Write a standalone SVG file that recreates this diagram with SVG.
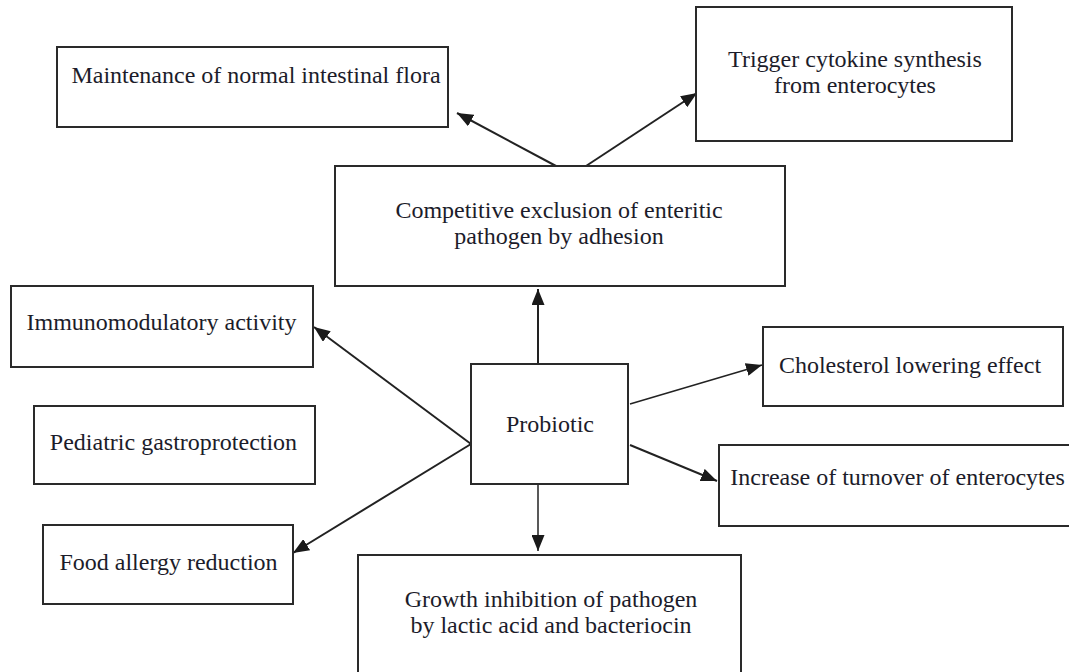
<svg xmlns="http://www.w3.org/2000/svg" width="1069" height="672" viewBox="0 0 1069 672">
<style>
.box{fill:#fff;stroke:#2a2a2a;stroke-width:2}
.lbl{font-family:"Liberation Serif","Times New Roman",serif;font-size:24px;fill:#1c1c2a;text-anchor:middle}
.edge{stroke:#222;stroke-width:2;fill:none;marker-end:url(#ah)}
.thin{stroke-width:1.5}
</style>
<defs>
<marker id="ah" viewBox="0 0 16 13" refX="16" refY="6.5" markerWidth="16" markerHeight="13" markerUnits="userSpaceOnUse" orient="auto">
<path d="M0,0 L16,6.5 L0,13 z" fill="#1a1a1a"/>
</marker>
</defs>
<rect width="1069" height="672" fill="#fff"/>
<g id="connectors">
<line class="edge" x1="556" y1="166" x2="457" y2="113"/>
<line class="edge" x1="586" y1="166" x2="697" y2="93"/>
<line class="edge" x1="538" y1="364" x2="538" y2="289"/>
<line class="edge" x1="471" y1="444" x2="314" y2="327"/>
<line class="edge" x1="471" y1="444" x2="293" y2="553"/>
<line class="edge thin" x1="630" y1="404" x2="762" y2="365"/>
<line class="edge" x1="630" y1="445" x2="717" y2="481"/>
<line class="edge thin" x1="538" y1="484" x2="538" y2="551"/>
</g>
<g id="maintenance">
<rect class="box" x="57" y="47" width="391" height="80"/>
<text class="lbl" x="256" y="83">Maintenance of normal intestinal flora</text>
</g>
<g id="trigger">
<rect class="box" x="696" y="7" width="316" height="134"/>
<text class="lbl" x="855" y="67">Trigger cytokine synthesis</text>
<text class="lbl" x="855" y="93">from enterocytes</text>
</g>
<g id="competitive">
<rect class="box" x="335" y="166" width="450" height="120"/>
<text class="lbl" x="559" y="218">Competitive exclusion of enteritic</text>
<text class="lbl" x="559" y="244">pathogen by adhesion</text>
</g>
<g id="immuno">
<rect class="box" x="11" y="286" width="302" height="81"/>
<text class="lbl" x="161.5" y="330">Immunomodulatory activity</text>
</g>
<g id="pediatric">
<rect class="box" x="34" y="406" width="281" height="78"/>
<text class="lbl" x="173.5" y="450">Pediatric gastroprotection</text>
</g>
<g id="food">
<rect class="box" x="43" y="525" width="250" height="79"/>
<text class="lbl" x="168.5" y="570">Food allergy reduction</text>
</g>
<g id="probiotic">
<rect class="box" x="471" y="364" width="157" height="120"/>
<text class="lbl" x="550" y="432">Probiotic</text>
</g>
<g id="cholesterol">
<rect class="box" x="763" y="327" width="300" height="79"/>
<text class="lbl" x="910" y="373">Cholesterol lowering effect</text>
</g>
<g id="increase">
<rect class="box" x="719" y="445" width="360" height="81"/>
<text class="lbl" x="897.5" y="485">Increase of turnover of enterocytes</text>
</g>
<g id="growth">
<rect class="box" x="358" y="555" width="383" height="130"/>
<text class="lbl" x="551" y="607">Growth inhibition of pathogen</text>
<text class="lbl" x="551" y="633">by lactic acid and bacteriocin</text>
</g>
</svg>
